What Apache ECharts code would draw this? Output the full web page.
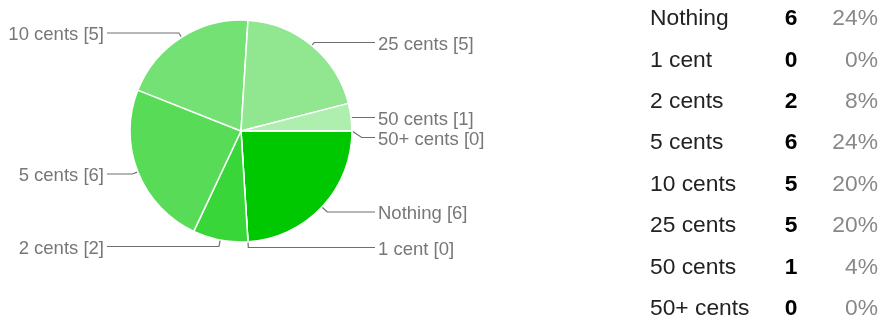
<!DOCTYPE html>
<html><head><meta charset="utf-8">
<script src="https://cdn.jsdelivr.net/npm/echarts@6/dist/echarts.min.js"></script>
<style>html,body{margin:0;padding:0;background:#fff}#c{width:882px;height:324px}</style>
</head><body><div id="c"></div><script>
// ---- data ----
const categories = ['Nothing', '1 cent', '2 cents', '5 cents', '10 cents', '25 cents', '50 cents', '50+ cents'];
const counts = [6, 0, 2, 6, 5, 5, 1, 0];
const percents = ['24%', '0%', '8%', '24%', '20%', '20%', '4%', '0%'];

// ---- layout / styling ----
const colors = ['#00c800', '#26d326', '#38d638', '#58dc58', '#74e174', '#90e790', '#aeeeae', '#c6f3c6'];
const labelSide = ['right', 'right', 'left', 'left', 'left', 'right', 'right', 'right'];
const labelLineY = [212, 247.5, 246.5, 174, 33, 42.5, 117.5, 137.5];
const FONT = "'Liberation Sans', Arial, sans-serif";

const chart = echarts.init(document.getElementById('c'), null, {renderer: 'canvas'});

const graphics = [];
const rowY0 = 19, rowStep = 41.4;
categories.forEach(function (name, i) {
  const y = rowY0 + i * rowStep;
  graphics.push({type: 'text', x: 650, y: y, style: {text: name, fontSize: 22.8, fontFamily: FONT, fill: '#222', align: 'left', verticalAlign: 'middle'}});
  graphics.push({type: 'text', x: 791, y: y, style: {text: String(counts[i]), fontSize: 22.8, fontWeight: 'bold', fontFamily: FONT, fill: '#000', align: 'center', verticalAlign: 'middle'}});
  graphics.push({type: 'text', x: 878, y: y, style: {text: percents[i], fontSize: 22.8, fontFamily: FONT, fill: '#888', align: 'right', verticalAlign: 'middle'}});
});

chart.setOption({
  animation: false,
  color: colors,
  graphic: graphics,
  series: [{
    type: 'pie',
    center: [241, 131],
    radius: 111,
    startAngle: 0,
    clockwise: true,
    minAngle: 0,
    avoidLabelOverlap: false,
    stillShowZeroSum: true,
    itemStyle: {borderColor: '#fff', borderWidth: 1.5},
    label: {
      show: true, position: 'outside', formatter: '{b} [{c}]',
      fontSize: 18.5, fontFamily: FONT, color: '#777'
    },
    labelLine: {show: true, length: 10, length2: 20, smooth: false, lineStyle: {color: '#6f6f6f', width: 1.2}},
    labelLayout: function (p) {
      const i = p.dataIndex;
      const side = labelSide[i];
      const sgn = side === 'right' ? 1 : -1;
      const ly = labelLineY[i];
      const pts = p.labelLinePoints;
      const res = {x: side === 'right' ? 378 : 104, y: ly + 2, align: side === 'right' ? 'left' : 'right', verticalAlign: 'middle'};
      if (pts && pts.length >= 2) {
        const p0 = pts[0], p1 = pts[1];
        let dx = p1[0] - p0[0], dy = p1[1] - p0[1];
        const len = Math.hypot(dx, dy) || 1; dx /= len; dy /= len;
        const ddy = ly - p0[1];
        let bx;
        if (Math.abs(dy) > 0.2 && ddy * dy >= 0) {
          const k = Math.min(ddy / dy, 25);
          bx = p0[0] + k * dx;
        } else {
          bx = p0[0] + sgn * Math.min(Math.abs(ddy) * 1.5, 12);
        }
        const endX = side === 'right' ? 375 : 107;
        res.labelLinePoints = [[p0[0], p0[1]], [bx, ly], [endX, ly]];
      }
      return res;
    },
    data: categories.map(function (n, i) { return {name: n, value: counts[i]}; })
  }]
});
</script></body></html>
